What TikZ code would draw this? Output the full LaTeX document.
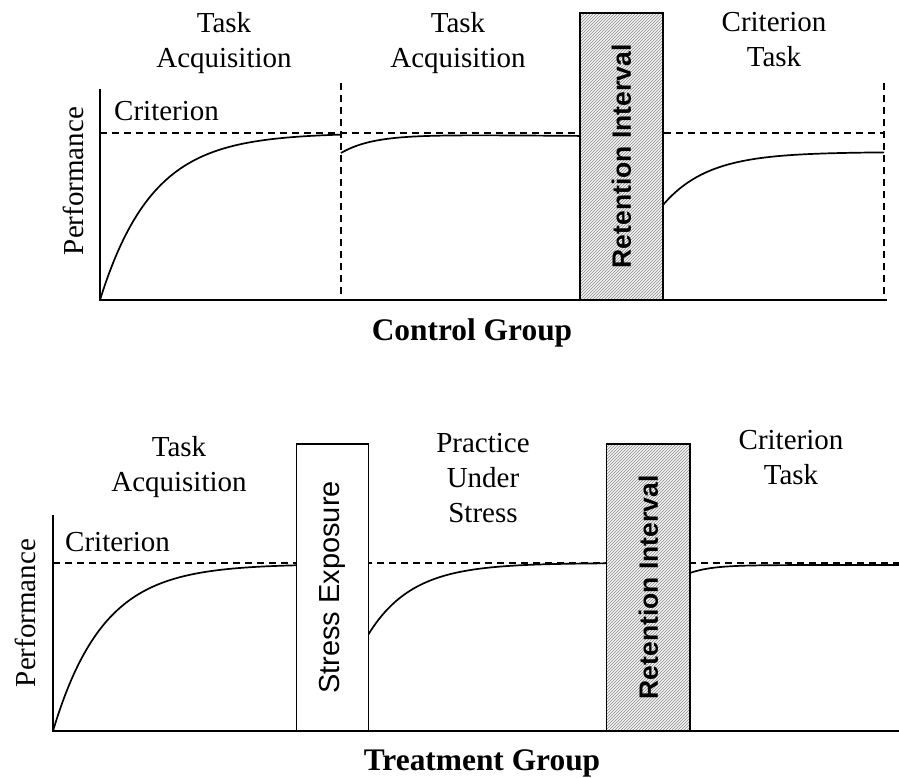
\documentclass[tikz,border=0pt]{standalone}
\usepackage{fontspec}
\setmainfont{Liberation Serif}
\newfontfamily\arial{Liberation Sans}
\usetikzlibrary{patterns}
\tikzset{
  axisline/.style={line width=2pt},
  curveline/.style={line width=1.7pt},
  critline/.style={line width=1.3pt, dash pattern=on 7pt off 5pt},
  lbl/.style={font=\fontsize{29}{35}\selectfont, align=center, inner sep=0pt},
  ttl/.style={font=\fontsize{31.4}{36}\selectfont\bfseries, inner sep=0pt, anchor=base},
  boxbase/.style={draw, line width=1.5pt, inner sep=0pt, outer sep=0pt, minimum height=287pt},
  whitebox/.style={boxbase, fill=white},
  hatchbox/.style={boxbase, preaction={fill=gray!8}, pattern=north east lines, pattern color=black!45},
  boxtext/.style={rotate=90, inner sep=0pt, font=\arial\fontsize{29}{34}\selectfont},
  boxbold/.style={rotate=90, inner sep=0pt, font=\arial\bfseries\fontsize{26.5}{32}\selectfont},
}
\begin{document}
\begin{tikzpicture}[x=1pt,y=-1pt]
\useasboundingbox (0,0) rectangle (899,778);

% ================= Control group =================
\coordinate (c-top) at (100,89);
\coordinate (c-orig) at (100,300);
\coordinate (c-end) at (887,300);
\coordinate (c-crit-l) at (100,133);
\coordinate (c-crit-r) at (884,133);
\coordinate (c-v1t) at (341,83);
\coordinate (c-v1b) at (341,300);
\coordinate (c-v2t) at (884,83);
\coordinate (c-v2b) at (884,300);

\draw[critline] (c-crit-l) -- (c-crit-r);
\draw[critline] (c-v1t) -- (c-v1b);
\draw[critline] (c-v2t) -- (c-v2b);

\draw[curveline] plot[domain=100:341, samples=80, smooth] (\x, {300-167*(1-exp(-(\x-100)/52))});
\draw[curveline] plot[domain=341:580, samples=60, smooth] (\x, {134+19*exp(-(\x-341)/32)+0.008*(\x-341)});
\draw[curveline] plot[domain=663:884, samples=60, smooth] (\x, {152+53*exp(-(\x-663)/45)});

\draw[axisline] (c-top) -- (c-orig) -- (c-end);

\node[hatchbox, minimum width=83pt] (c-ret) at (621.5,156.5) {};
\node[boxbold] (c-rettext) at (c-ret.center) {Retention Interval};

\node[lbl] (c-ta1) at (224,42.8) {Task\\Acquisition};
\node[lbl] (c-ta2) at (458,42.8) {Task\\Acquisition};
\node[lbl] (c-ct) at (774,39.6) {Criterion\\Task};
\node[lbl, anchor=base west] (c-crit) at (114,120.5) {Criterion};
\node[lbl, rotate=90, anchor=base] (c-perf) at (83,181) {Performance};
\node[ttl] (c-title) at (472,340) {Control Group};

% ================= Treatment group =================
\coordinate (t-top) at (53,515);
\coordinate (t-orig) at (53,731);
\coordinate (t-end) at (899,731);
\coordinate (t-crit-l) at (53,563);
\coordinate (t-crit-r) at (899,563);

\draw[critline] (t-crit-l) -- (t-crit-r);

\draw[curveline] plot[domain=53:297, samples=80, smooth] (\x, {731-167*(1-exp(-(\x-53)/50))});
\draw[curveline] plot[domain=368:607, samples=60, smooth] (\x, {563+72*exp(-(\x-368)/44)});
\draw[curveline] plot[domain=690:899, samples=50, smooth] (\x, {565+8*exp(-(\x-690)/22)});

\draw[axisline] (t-top) -- (t-orig) -- (t-end);

\node[whitebox, minimum width=71.6pt] (t-stress) at (332.5,587.5) {};
\node[boxtext] (t-stresstext) at (t-stress.center) {Stress Exposure};
\node[hatchbox, minimum width=83.3pt] (t-ret) at (648.3,587.5) {};
\node[boxbold] (t-rettext) at (t-ret.center) {Retention Interval};

\node[lbl] (t-ta) at (179,467.5) {Task\\Acquisition};
\node[lbl] (t-pus) at (483,478.5) {Practice\\Under\\Stress};
\node[lbl] (t-ct) at (791,457.7) {Criterion\\Task};
\node[lbl, anchor=base west] (t-crit) at (65,551.5) {Criterion};
\node[lbl, rotate=90, anchor=base] (t-perf) at (35,613) {Performance};
\node[ttl] (t-title) at (482,770) {Treatment Group};
\end{tikzpicture}
\end{document}
